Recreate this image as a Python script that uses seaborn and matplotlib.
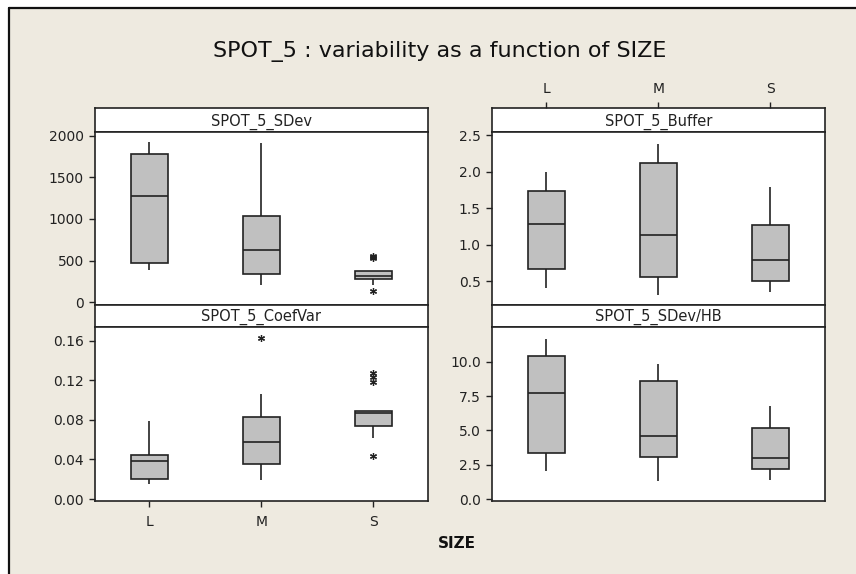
import matplotlib
matplotlib.use("Agg")
import matplotlib.pyplot as plt
from matplotlib.patches import Rectangle
from matplotlib.lines import Line2D
from matplotlib.ticker import FormatStrFormatter
import seaborn as sns
import pandas as pd

sizes = ["L", "M", "S"]

sdev_L = [388, 469, 1274, 1779, 1923]
sdev_M = [208, 344, 629, 1041, 1911]
sdev_S = [135, 207, 260, 284, 295, 305, 311, 330, 355, 380, 530, 545, 560]

buffer_L = [0.413, 0.663, 1.287, 1.734, 2.0]
buffer_M = [0.314, 0.562, 1.128, 2.118, 2.372]
buffer_S = [0.355, 0.5, 0.785, 1.268, 1.783]

coefvar_L = [0.0152, 0.0199, 0.0381, 0.0442, 0.0788]
coefvar_M = [0.0192, 0.028, 0.0351, 0.045, 0.0573, 0.070, 0.0832, 0.1058, 0.163]
coefvar_S = [0.0435, 0.0613, 0.068, 0.0741, 0.078, 0.083, 0.0866, 0.0875,
             0.0885, 0.0892, 0.1186, 0.1236, 0.1276]

sdevhb_L = [2.04, 3.37, 7.72, 10.41, 11.65]
sdevhb_M = [1.31, 3.08, 4.59, 8.59, 9.81]
sdevhb_S = [1.38, 2.18, 2.96, 5.15, 6.77]

sdev_ticks = [0, 500, 1000, 1500, 2000]
buffer_ticks = [0.5, 1.0, 1.5, 2.0, 2.5]
coefvar_ticks = [0.00, 0.04, 0.08, 0.12, 0.16]
sdevhb_ticks = [0.0, 2.5, 5.0, 7.5, 10.0]


def long_form(name, groups):
    rows = []
    for size, vals in zip(sizes, groups):
        rows += [{"variable": name, "SIZE": size, "value": v} for v in vals]
    return rows


df = pd.DataFrame(
    long_form("SPOT_5_SDev", [sdev_L, sdev_M, sdev_S])
    + long_form("SPOT_5_Buffer", [buffer_L, buffer_M, buffer_S])
    + long_form("SPOT_5_CoefVar", [coefvar_L, coefvar_M, coefvar_S])
    + long_form("SPOT_5_SDev/HB", [sdevhb_L, sdevhb_M, sdevhb_S])
)

sns.set_theme(style="white")
plt.rcParams["font.family"] = ["DejaVu Sans"]

BG = "#eeeae0"
INK = "#222222"
W, H = 856, 574
fig = plt.figure(figsize=(W / 100, H / 100), dpi=100, facecolor="white")


def frac(x0, y0, x1, y1):
    return [x0 / W, 1 - y1 / H, (x1 - x0) / W, (y1 - y0) / H]


# beige window area with a dark frame on its left and top edges
fx, fy = 8.5 / W, 1 - 8 / H
fig.add_artist(Rectangle((fx, -0.1), 1.2, fy + 0.1, transform=fig.transFigure,
                         facecolor=BG, edgecolor="none", clip_on=False, zorder=-10))
fig.add_artist(Line2D([fx, fx], [-0.1, fy], transform=fig.transFigure,
                      color="#111111", linewidth=1.6, zorder=-5))
fig.add_artist(Line2D([fx, 1.1], [fy, fy], transform=fig.transFigure,
                      color="#111111", linewidth=1.6, zorder=-5))

panels = [
    # name, ticks, fmt, x0, x1, strip top, data top, data bottom, ylim
    ("SPOT_5_SDev", sdev_ticks, "%d", 95, 428, 108.3, 132.3, 305, (-32.4, 2040.8)),
    ("SPOT_5_Buffer", buffer_ticks, "%.1f", 492, 825, 108.3, 132.3, 305, (0.176, 2.537)),
    ("SPOT_5_CoefVar", coefvar_ticks, "%.2f", 95, 428, 305, 327.3, 501.3, (-0.0023, 0.1735)),
    ("SPOT_5_SDev/HB", sdevhb_ticks, "%.1f", 492, 825, 305, 327.3, 501.3, (-0.167, 12.506)),
]
xlim = (-0.485, 2.49)

for name, ticks, fmt, x0, x1, st, dt, db, ylim in panels:
    strip = fig.add_axes(frac(x0, st, x1, dt))
    strip.set_facecolor("white")
    strip.set_xlim(xlim)
    strip.set_yticks([])
    strip.set_xticks([])
    strip.text(0.5, 0.45, name, ha="center", va="center", fontsize=10.5,
               color=INK, transform=strip.transAxes)

    ax = fig.add_axes(frac(x0, dt, x1, db))
    ax.set_facecolor("white")
    sub = df[df["variable"] == name]
    sns.boxplot(data=sub, x="SIZE", y="value", order=sizes, ax=ax,
                color="#c0c0c0", saturation=1, width=0.33, linecolor=INK,
                linewidth=1.2, whis=1.5, showcaps=False, fliersize=5,
                flierprops=dict(marker=(6, 2, 0), markeredgecolor=INK,
                                markeredgewidth=0.9))
    ax.set_xlim(xlim)
    ax.set_ylim(ylim)
    ax.set_yticks(ticks)
    ax.yaxis.set_major_formatter(FormatStrFormatter(fmt))
    ax.set_xlabel("")
    ax.set_ylabel("")
    ax.tick_params(axis="y", left=True, direction="out", length=4, width=1,
                   color=INK, labelsize=10, labelcolor=INK, pad=4)

    if name == "SPOT_5_CoefVar":
        ax.tick_params(axis="x", bottom=True, direction="out", length=4, width=1,
                       color=INK, labelsize=10, labelcolor=INK, pad=6)
    else:
        ax.set_xticks([])
    if name == "SPOT_5_Buffer":
        strip.set_xticks(range(len(sizes)))
        strip.set_xticklabels(sizes)
        strip.tick_params(axis="x", top=True, bottom=False, labeltop=True,
                          labelbottom=False, direction="out", length=4, width=1,
                          color=INK, labelsize=10, labelcolor=INK, pad=5)

    for a in (strip, ax):
        for sp in a.spines.values():
            sp.set_visible(True)
            sp.set_color(INK)
            sp.set_linewidth(1.2)

fig.text(440 / W, 1 - 57.5 / H, "SPOT_5 : variability as a function of SIZE",
         ha="center", va="baseline", fontsize=16, color="#111111")
fig.text(457 / W, 1 - 544 / H, "SIZE", ha="center", va="center",
         fontsize=11, fontweight="bold", color="#111111")

fig.savefig("out.png", dpi=100, facecolor="white")
